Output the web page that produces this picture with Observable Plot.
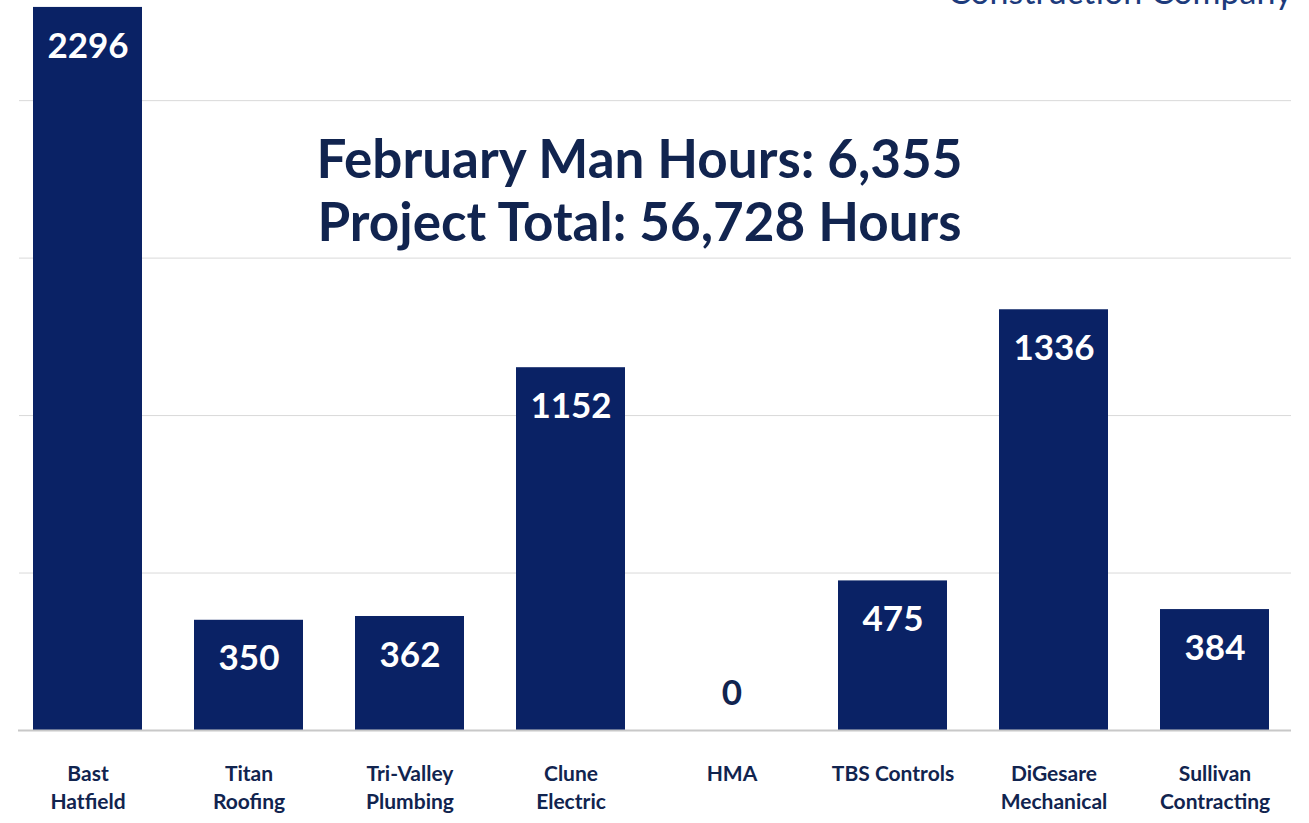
<!DOCTYPE html>
<html>
<head>
<meta charset="utf-8">
<script src="https://cdn.jsdelivr.net/npm/d3@7"></script>
<script src="https://cdn.jsdelivr.net/npm/@observablehq/plot@0.6"></script>
<style>
  html, body { margin: 0; padding: 0; background: #fff; }
  #chart svg { display: block; overflow: hidden; }
</style>
</head>
<body>
<div id="chart"></div>
<script>
const companies = ["Bast Hatfield", "Titan Roofing", "Tri-Valley Plumbing", "Clune Electric", "HMA", "TBS Controls", "DiGesare Mechanical", "Sullivan Contracting"];
const tickLabels = ["Bast\nHatfield", "Titan\nRoofing", "Tri-Valley\nPlumbing", "Clune\nElectric", "HMA", "TBS Controls", "DiGesare\nMechanical", "Sullivan\nContracting"];
const hours = [2296, 350, 362, 1152, 0, 475, 1336, 384];
const gridValues = [500, 1000, 1500, 2000];
const titleLines = ["February Man Hours: 6,355", "Project Total: 56,728 Hours"];
const cornerText = "Construction Company";

const data = companies.map((c, i) => ({company: c, hours: hours[i], label: tickLabels[i]}));
const labelOf = new Map(data.map(d => [d.company, d.label]));

const navy = "#0a2265";
const textNavy = "#11244f";
const font = "Lato, 'Open Sans', sans-serif";

const chart = Plot.plot({
  width: 1309,
  height: 823,
  marginLeft: 7,
  marginRight: 14,
  marginTop: 0,
  marginBottom: 93,
  style: {fontFamily: font, background: "#fff"},
  x: {domain: companies, paddingInner: 0.32, paddingOuter: 0.16, label: null},
  y: {domain: [0, 2318], axis: null},
  marks: [
    Plot.ruleY(gridValues, {stroke: "#d9d9d9", strokeWidth: 1, insetLeft: 12, insetRight: 4}),
    Plot.barY(data, {x: "company", y: "hours", fill: navy}),
    Plot.ruleY([0], {stroke: "#c8c8c8", strokeWidth: 2, insetLeft: 11, insetRight: 4}),
    Plot.text(data.filter(d => d.hours > 0), {
      x: "company", y: "hours", text: d => String(d.hours),
      dy: 39, fill: "#fff", fontSize: 35, fontWeight: "bold"
    }),
    Plot.text(data.filter(d => d.hours === 0), {
      x: "company", y: "hours", text: d => String(d.hours),
      dy: -37, fill: textNavy, fontSize: 35, fontWeight: "bold"
    }),
    Plot.axisX({
      tickSize: 0, tickPadding: 30, label: null,
      tickFormat: c => labelOf.get(c),
      fontSize: 21, fontWeight: "bold", fill: textNavy,
      lineHeight: 1.35
    }),
    Plot.text([titleLines[0]], {
      frameAnchor: "top", dx: -12, dy: 177, lineAnchor: "bottom",
      fontSize: 53, fontWeight: "bold", fill: textNavy
    }),
    Plot.text([titleLines[1]], {
      frameAnchor: "top", dx: -12, dy: 240, lineAnchor: "bottom",
      fontSize: 53, fontWeight: "bold", fill: textNavy
    }),
    Plot.text([cornerText], {
      frameAnchor: "top-right", dx: -3, dy: 3, lineAnchor: "bottom", textAnchor: "end",
      fontSize: 34, fill: "#1d3b7c"
    })
  ]
});
document.getElementById("chart").appendChild(chart);
</script>
</body>
</html>
